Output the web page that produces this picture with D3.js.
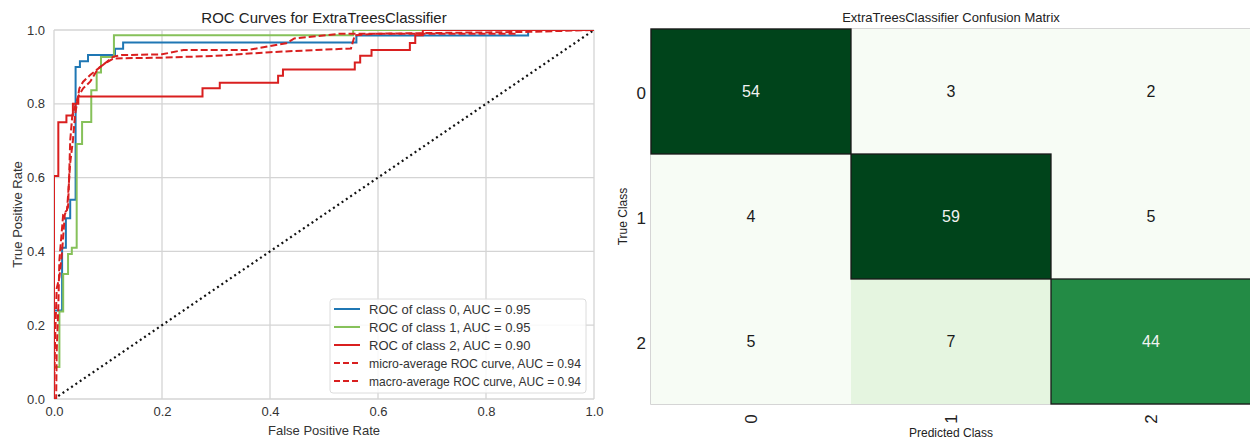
<!DOCTYPE html>
<html>
<head>
<meta charset="utf-8">
<script src="https://cdn.jsdelivr.net/npm/d3@7"></script>
<style>
  body { margin: 0; background: #fff; }
  svg { display: block; font-family: "Liberation Sans", Arial, sans-serif; }
</style>
</head>
<body>
<svg id="chart" width="1250" height="440"></svg>
<script>
// ---- ROC data: [false positive rate, true positive rate] corner points ----
const rocClass0 = [[0,0],[0,0.24],[0.015,0.24],[0.015,0.41],[0.022,0.41],[0.022,0.49],[0.03,0.49],[0.03,0.54],[0.04,0.54],[0.04,0.90],[0.048,0.90],[0.048,0.915],[0.063,0.915],[0.063,0.932],[0.113,0.932],[0.113,0.949],[0.128,0.949],[0.128,0.966],[0.56,0.966],[0.56,0.985],[0.878,0.985],[0.878,1],[1,1]];
const rocClass1 = [[0,0],[0,0.087],[0.01,0.087],[0.01,0.237],[0.017,0.237],[0.017,0.339],[0.026,0.339],[0.026,0.393],[0.033,0.393],[0.033,0.41],[0.042,0.41],[0.042,0.691],[0.052,0.691],[0.052,0.751],[0.069,0.751],[0.069,0.837],[0.079,0.837],[0.079,0.885],[0.087,0.885],[0.087,0.927],[0.111,0.927],[0.111,0.986],[0.554,0.986],[0.554,1],[1,1]];
const rocClass2 = [[0,0],[0,0.604],[0.008,0.604],[0.008,0.75],[0.023,0.75],[0.023,0.768],[0.035,0.768],[0.035,0.80],[0.045,0.80],[0.045,0.82],[0.275,0.82],[0.275,0.842],[0.307,0.842],[0.307,0.857],[0.415,0.857],[0.415,0.876],[0.424,0.876],[0.424,0.893],[0.557,0.893],[0.557,0.912],[0.567,0.912],[0.567,0.93],[0.588,0.93],[0.588,0.946],[0.659,0.946],[0.659,0.965],[0.669,0.965],[0.669,0.986],[0.683,0.986],[0.683,1],[1,1]];
const rocMicro = [[0,0],[0.004,0],[0.005,0.13],[0.008,0.25],[0.01,0.377],[0.017,0.50],[0.024,0.512],[0.026,0.55],[0.03,0.64],[0.035,0.70],[0.039,0.77],[0.047,0.842],[0.054,0.86],[0.067,0.878],[0.079,0.892],[0.098,0.914],[0.11,0.928],[0.125,0.932],[0.2,0.934],[0.24,0.946],[0.36,0.946],[0.43,0.964],[0.445,0.977],[0.53,0.99],[0.857,0.99],[0.86,1],[1,1]];
const rocMacro = [[0,0],[0.002,0.16],[0.005,0.30],[0.01,0.33],[0.015,0.40],[0.02,0.50],[0.026,0.52],[0.028,0.60],[0.03,0.70],[0.034,0.77],[0.045,0.82],[0.054,0.842],[0.067,0.86],[0.082,0.896],[0.094,0.909],[0.11,0.923],[0.2,0.925],[0.3,0.93],[0.4,0.94],[0.55,0.95],[0.557,0.986],[0.6,0.99],[0.88,0.995],[1,1]];

const rocSeries = [
  { label: "ROC of class 0, AUC = 0.95", points: rocClass0, color: "#1f77b4", dashed: false },
  { label: "ROC of class 1, AUC = 0.95", points: rocClass1, color: "#86c15a", dashed: false },
  { label: "ROC of class 2, AUC = 0.90", points: rocClass2, color: "#d91f1f", dashed: false },
  { label: "micro-average ROC curve, AUC = 0.94", points: rocMicro, color: "#d91f1f", dashed: true },
  { label: "macro-average ROC curve, AUC = 0.94", points: rocMacro, color: "#d91f1f", dashed: true }
];
const rateTicks = [0, 0.2, 0.4, 0.6, 0.8, 1.0];

// ---- Confusion matrix data ----
const classLabels = ["0", "1", "2"];
const confusion = [
  [54, 3, 2],
  [4, 59, 5],
  [5, 7, 44]
];
const greens9 = ["#f7fcf5","#e5f5e0","#c7e9c0","#a1d99b","#74c476","#41ab5d","#238b45","#006d2c","#00441b"];

const svg = d3.select("#chart");

// ================= ROC panel =================
const roc = { left: 54, right: 594, top: 30, bottom: 399 };
const x = d3.scaleLinear().domain([0, 1]).range([roc.left, roc.right]);
const y = d3.scaleLinear().domain([0, 1]).range([roc.bottom, roc.top]);

svg.append("defs").append("clipPath").attr("id", "roc-clip")
  .append("rect").attr("x", roc.left).attr("y", roc.top)
  .attr("width", roc.right - roc.left).attr("height", roc.bottom - roc.top);

const rocG = svg.append("g");

// grid
rocG.append("g").selectAll("line").data(rateTicks).join("line")
  .attr("x1", d => x(d)).attr("x2", d => x(d))
  .attr("y1", roc.top).attr("y2", roc.bottom)
  .attr("stroke", "#d4d4d4").attr("stroke-width", 1.3);
rocG.append("g").selectAll("line").data(rateTicks).join("line")
  .attr("y1", d => y(d)).attr("y2", d => y(d))
  .attr("x1", roc.left).attr("x2", roc.right)
  .attr("stroke", "#d4d4d4").attr("stroke-width", 1.3);

// axes (labels only)
const fmt = d3.format(".1f");
const xAxis = rocG.append("g").attr("transform", `translate(0,${roc.bottom})`)
  .call(d3.axisBottom(x).tickValues(rateTicks).tickFormat(fmt).tickSize(0).tickPadding(8));
const yAxis = rocG.append("g").attr("transform", `translate(${roc.left},0)`)
  .call(d3.axisLeft(y).tickValues(rateTicks).tickFormat(fmt).tickSize(0).tickPadding(9));
[xAxis, yAxis].forEach(a => {
  a.select(".domain").remove();
  a.selectAll("text").attr("font-size", 13).attr("fill", "#333")
    .attr("font-family", "'Liberation Sans', Arial, sans-serif");
});

const plotG = rocG.append("g").attr("clip-path", "url(#roc-clip)");

// random-guess diagonal
plotG.append("line")
  .attr("x1", x(0)).attr("y1", y(0)).attr("x2", x(1)).attr("y2", y(1))
  .attr("stroke", "#111").attr("stroke-width", 2.2)
  .attr("stroke-dasharray", "2,3.2");

// curves
const line = d3.line().x(d => x(d[0])).y(d => y(d[1]));
plotG.append("g").selectAll("path").data(rocSeries).join("path")
  .attr("d", d => line(d.points))
  .attr("fill", "none")
  .attr("stroke", d => d.color)
  .attr("stroke-width", 2)
  .attr("stroke-linejoin", "miter")
  .attr("stroke-dasharray", d => d.dashed ? "7,3" : null);

// titles
rocG.append("text").attr("x", (roc.left + roc.right) / 2).attr("y", 23)
  .attr("text-anchor", "middle").attr("font-size", 15).attr("fill", "#222")
  .text("ROC Curves for ExtraTreesClassifier");
rocG.append("text").attr("x", (roc.left + roc.right) / 2).attr("y", 435)
  .attr("text-anchor", "middle").attr("font-size", 13).attr("fill", "#333")
  .text("False Positive Rate");
rocG.append("text")
  .attr("transform", `translate(22,${(roc.top + roc.bottom) / 2}) rotate(-90)`)
  .attr("text-anchor", "middle").attr("font-size", 13).attr("fill", "#333")
  .text("True Positive Rate");

// legend
const legend = rocG.append("g");
legend.append("rect").attr("x", 330).attr("y", 299).attr("width", 256).attr("height", 94)
  .attr("rx", 3).attr("fill", "#fff").attr("fill-opacity", 0.85)
  .attr("stroke", "#dcdcdc");
const items = legend.selectAll("g.item").data(rocSeries).join("g")
  .attr("transform", (d, i) => `translate(0,${309 + i * 18})`);
items.append("line").attr("x1", 334).attr("x2", 360).attr("y1", 0).attr("y2", 0)
  .attr("stroke", d => d.color).attr("stroke-width", 2)
  .attr("stroke-dasharray", d => d.dashed ? "6,3" : null);
items.append("text").attr("x", 369).attr("y", 0).attr("dy", "0.35em")
  .attr("font-size", 13).attr("fill", "#333").text(d => d.label)
  .each(function () {
    // keep the longer entries inside the legend frame
    const maxW = 212;
    if (this.getComputedTextLength() > maxW) {
      d3.select(this).attr("textLength", maxW).attr("lengthAdjust", "spacingAndGlyphs");
    }
  });

// ================= Confusion matrix panel =================
const cm = { left: 651, right: 1251, top: 29, bottom: 404 };
const cx = d3.scaleBand().domain(classLabels).range([cm.left, cm.right]);
const cy = d3.scaleBand().domain(classLabels).range([cm.top, cm.bottom]);
const color = d3.scaleQuantize().domain([0, d3.max(confusion.flat())]).range(greens9);

const cells = [];
confusion.forEach((row, i) => row.forEach((v, j) => cells.push({ r: classLabels[i], c: classLabels[j], v, diag: i === j })));

const cmG = svg.append("g");
cmG.append("rect").attr("x", cm.left).attr("y", cm.top)
  .attr("width", cm.right - cm.left).attr("height", cm.bottom - cm.top)
  .attr("fill", "none").attr("stroke", "#c8c8c8").attr("stroke-width", 1.5);

cmG.append("g").selectAll("rect").data(cells).join("rect")
  .attr("x", d => cx(d.c)).attr("y", d => cy(d.r))
  .attr("width", cx.bandwidth()).attr("height", cy.bandwidth())
  .attr("fill", d => color(d.v));
cmG.append("g").selectAll("rect").data(cells.filter(d => d.diag)).join("rect")
  .attr("x", d => cx(d.c)).attr("y", d => cy(d.r))
  .attr("width", cx.bandwidth()).attr("height", cy.bandwidth())
  .attr("fill", "none").attr("stroke", "#1a1a1a").attr("stroke-width", 1.3);

cmG.append("g").selectAll("text").data(cells).join("text")
  .attr("x", d => cx(d.c) + cx.bandwidth() / 2)
  .attr("y", d => cy(d.r) + cy.bandwidth() / 2)
  .attr("dy", "0.35em").attr("text-anchor", "middle")
  .attr("font-size", 16)
  .attr("fill", d => d3.hsl(color(d.v)).l < 0.5 ? "#f2f2f2" : "#1a1a1a")
  .text(d => d.v);

// row labels
cmG.append("g").selectAll("text").data(classLabels).join("text")
  .attr("x", 646).attr("y", d => cy(d) + cy.bandwidth() / 2 + 2)
  .attr("dy", "0.35em").attr("text-anchor", "end")
  .attr("font-size", 17).attr("fill", "#222").text(d => d);
// column labels (rotated)
cmG.append("g").selectAll("text").data(classLabels).join("text")
  .attr("transform", d => `translate(${cx(d) + cx.bandwidth() / 2},419) rotate(-90)`)
  .attr("dy", "0.35em").attr("text-anchor", "middle")
  .attr("font-size", 17).attr("fill", "#222").text(d => d);

cmG.append("text").attr("x", 951).attr("y", 22).attr("text-anchor", "middle")
  .attr("font-size", 13).attr("fill", "#222")
  .text("ExtraTreesClassifier Confusion Matrix");
cmG.append("text").attr("x", 951).attr("y", 437).attr("text-anchor", "middle")
  .attr("font-size", 12).attr("fill", "#222").text("Predicted Class");
cmG.append("text")
  .attr("transform", `translate(627,${(cm.top + cm.bottom) / 2}) rotate(-90)`)
  .attr("text-anchor", "middle").attr("font-size", 12).attr("fill", "#222")
  .text("True Class");
</script>
</body>
</html>
